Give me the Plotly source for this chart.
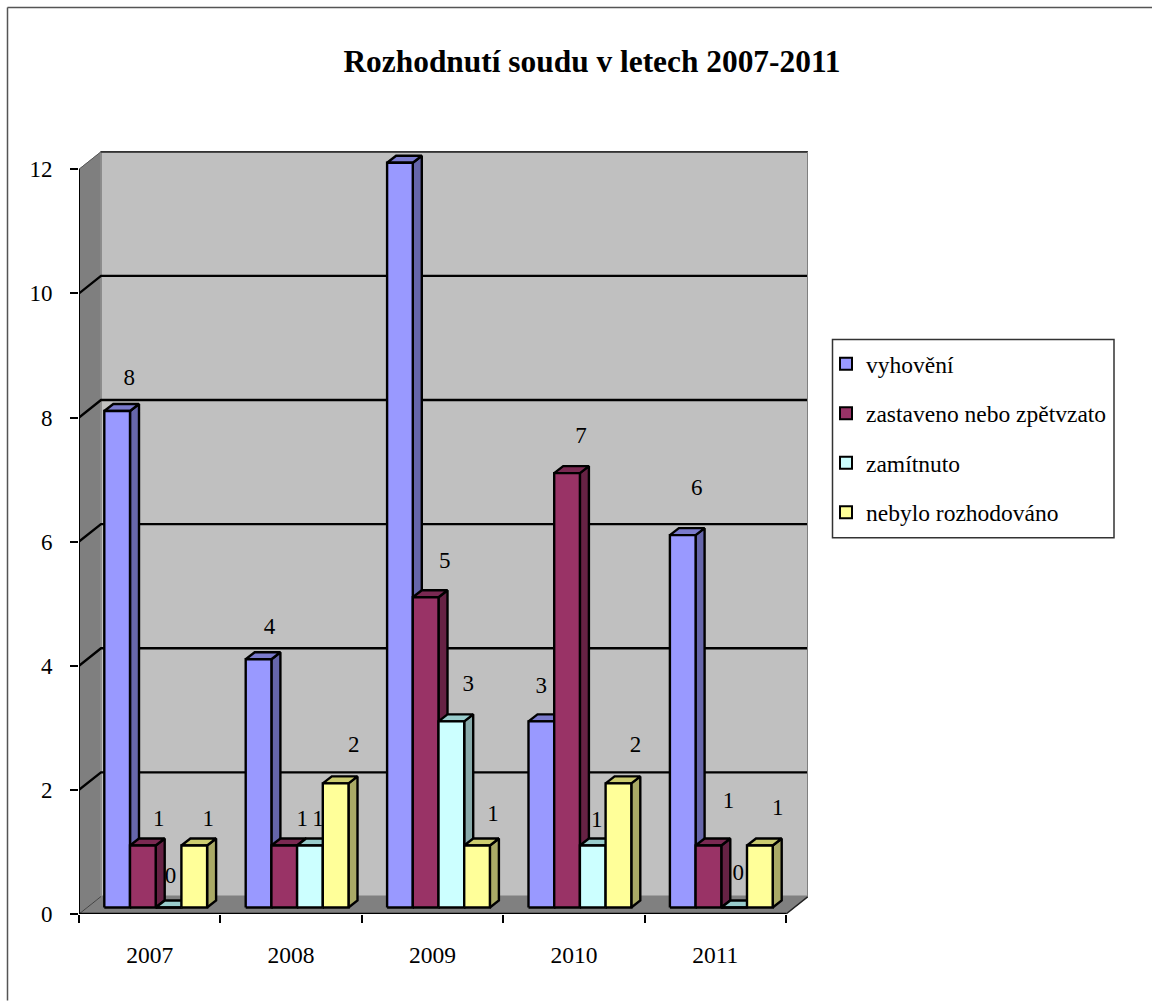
import plotly.graph_objects as go

TITLE = "Rozhodnutí soudu v letech 2007-2011"
YEARS = ["2007", "2008", "2009", "2010", "2011"]
VYHOVENI = [8, 4, 12, 3, 6]
ZASTAVENO = [1, 1, 5, 7, 1]
ZAMITNUTO = [0, 1, 3, 1, 0]
NEBYLO = [1, 2, 1, 2, 1]
SERIES_NAMES = ["vyhovění", "zastaveno nebo zpětvzato", "zamítnuto", "nebylo rozhodováno"]
SERIES_VALUES = [VYHOVENI, ZASTAVENO, ZAMITNUTO, NEBYLO]

# ---- styling / layout (pixels of the 1152x1001 page) ----
W, H = 1152, 1001
L, R, T, B = 79, 808, 151, 914.5
PX_CAT, PX_UNIT = 141.4, 62.1
DEPTH_X, DEPTH_Y = 22, 17.5
BAR_DX, BAR_DY = 9, 7
BAR_START, BAR_W, BAR_BASE = 25.3, 25.7, 6.5
FACE = ["#9999FF", "#993366", "#CCFFFF", "#FFFF99"]
SIDE = ["#6666AA", "#662244", "#88AAAA", "#AAAA66"]
TOP = ["#7A7ACC", "#7A2952", "#99CCCC", "#CCCC70"]
FONT = "Liberation Serif"
# hand placed data label nudges of the original chart, (dx, dy) from the bar's front top centre
NUDGE = [
    [(12, -33), (11, -32), (9, -41), (0, -35), (14, -47)],
    [(16, -26), (18, -26), (19, -36), (14, -37), (20, -44)],
    [(2, -31), (8, -26), (17, -37), (4, -25), (4, -34)],
    [(14, -26), (18, -38), (16, -31), (17, -38), (18, -37)],
]

dx = lambda p: p / PX_CAT
dy = lambda p: p / PX_UNIT
left = -0.5
xr = [left, left + dx(R - L)]
yr = [0, dy(B - T)]
paper_x = lambda p: (p - L) / (R - L)
paper_y = lambda p: (B - p) / (B - T)

fig = go.Figure()


def poly(xs, ys, fill, line="black", lw=2.4):
    fig.add_trace(go.Scatter(
        x=list(xs) + [xs[0]], y=list(ys) + [ys[0]], mode="lines", fill="toself",
        fillcolor=fill, line=dict(color=line, width=lw), hoverinfo="skip", showlegend=False))


def path(xs, ys, color="black", lw=2.4):
    fig.add_trace(go.Scatter(x=xs, y=ys, mode="lines", line=dict(color=color, width=lw),
                             hoverinfo="skip", showlegend=False))


x0, x1 = left, left + len(YEARS)
ddx, ddy = dx(DEPTH_X), dy(DEPTH_Y)
top_v = 12
# walls and floor
poly([x0 + ddx, xr[1], xr[1], x0 + ddx], [ddy, ddy, top_v + ddy, top_v + ddy], "#C0C0C0", "#808080", 2)
poly([x0, x0 + ddx, x0 + ddx, x0], [0, ddy, top_v + ddy, top_v], "#7F7F7F", "#999999", 1)
poly([x0, x1, x1 + ddx, x0 + ddx], [0, 0, ddy, ddy], "#808080", "#808080", 1)
# grid
for v in range(2, 13, 2):
    if v == 12:
        path([x0, x0 + ddx], [v, v + ddy], "#555555", 1)
        path([x0 + ddx, xr[1]], [v + ddy, v + ddy], "#333333", 2)
    else:
        path([x0, x0 + ddx, xr[1]], [v, v + ddy, v + ddy], "black", 2.4)
path([x0, x0 + ddx], [0, ddy], "#444444", 1)
path([x1, x1 + ddx], [0, ddy], "#222222", 1.5)
path([x1 + ddx, x1 + ddx], [ddy, top_v + ddy], "#808080", 2)
# axis lines
path([x0, x0], [0, top_v], "black", 2)
path([x0, x1], [0, 0], "black", 2.5)

# bars, front to back is left to right
bx, bdy = dx(BAR_DX), dy(BAR_DY)
base = dy(BAR_BASE)
for c in range(len(YEARS)):
    for s, vals in enumerate(SERIES_VALUES):
        v = vals[c]
        a = left + c + dx(BAR_START + BAR_W * s)
        b = a + dx(BAR_W)
        t = base + v
        poly([b, b + bx, b + bx, b], [base, base + bdy, t + bdy, t], SIDE[s])
        poly([a, a + bx, b + bx, b], [t, t + bdy, t + bdy, t], TOP[s])
        poly([a, b, b, a], [base, base, t, t], FACE[s])

# data labels
lx, ly, lt = [], [], []
for s, vals in enumerate(SERIES_VALUES):
    for c, v in enumerate(vals):
        nx, ny = NUDGE[s][c]
        lx.append(left + c + dx(BAR_START + BAR_W * (s + 0.5) + nx))
        ly.append(base + v - dy(ny + 1))
        lt.append(str(v))
fig.add_trace(go.Scatter(x=lx, y=ly, text=lt, mode="text", textposition="middle center",
                         textfont=dict(family=FONT, size=23, color="black"),
                         cliponaxis=False, hoverinfo="skip", showlegend=False))

# legend entries
for s, name in enumerate(SERIES_NAMES):
    fig.add_trace(go.Scatter(x=[None], y=[None], mode="markers", name=name, legendgroup=name,
                             marker=dict(symbol="square", size=12, color=FACE[s],
                                         line=dict(color="black", width=2))))

fig.update_layout(
    width=W, height=H, autosize=False,
    margin=dict(l=L, r=W - R, t=T, b=H - B, pad=0),
    paper_bgcolor="white", plot_bgcolor="white",
    font=dict(family=FONT, color="black", size=23),
    title=dict(text=TITLE, x=592 / W, y=1 - 61 / H, xanchor="center", yanchor="middle",
               font=dict(family=FONT, size=31.4, weight=700, color="black")),
    xaxis=dict(range=xr, showgrid=False, zeroline=False, showline=False,
               tickmode="array", tickvals=list(range(len(YEARS))), ticktext=YEARS, ticks="",
               ticklabelstandoff=24, tickfont=dict(family=FONT, size=23.5),
               minor=dict(tickmode="array", tickvals=[left + i for i in range(len(YEARS) + 1)],
                          ticks="outside", ticklen=8, tickwidth=2, tickcolor="black", showgrid=False)),
    yaxis=dict(range=yr, showgrid=False, zeroline=False, showline=False,
               tickmode="array", tickvals=list(range(0, 13, 2)), ticks="outside", ticklen=8,
               tickwidth=2, tickcolor="black", ticklabelstandoff=13,
               tickfont=dict(family=FONT, size=23)),
    legend=dict(x=paper_x(826), y=paper_y(342), xanchor="left", yanchor="top",
                bgcolor="rgba(0,0,0,0)", borderwidth=0, tracegroupgap=16,
                font=dict(family=FONT, size=23.5, color="black"),
                itemclick=False, itemdoubleclick=False),
    shapes=[
        dict(type="rect", xref="paper", yref="paper", x0=paper_x(832.5), x1=paper_x(1114),
             y0=paper_y(339.5), y1=paper_y(538), line=dict(color="#333333", width=1.5)),
        dict(type="line", xref="paper", yref="paper", x0=paper_x(7.5), x1=paper_x(7.5),
             y0=paper_y(7.5), y1=paper_y(H), line=dict(color="#555555", width=1.5)),
        dict(type="line", xref="paper", yref="paper", x0=paper_x(7.5), x1=paper_x(W),
             y0=paper_y(7.5), y1=paper_y(7.5), line=dict(color="#555555", width=1.5)),
    ],
)

fig.write_html("out.html", config={"displayModeBar": False},
               post_script="document.body.style.margin='0';document.documentElement.style.overflow='hidden';")
